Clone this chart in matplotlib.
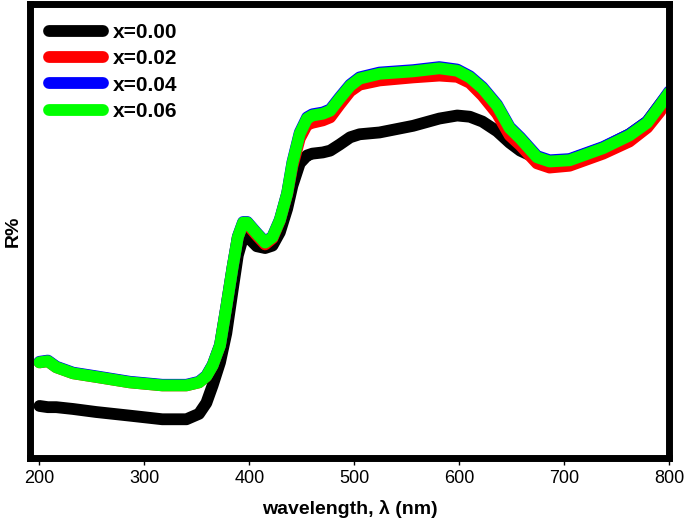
import matplotlib.pyplot as plt

plt.rcParams['font.family'] = ['Liberation Sans', 'DejaVu Sans']

# wavelength grid (nm)
wavelength = [200, 208, 216, 232, 254, 286, 317, 340, 352, 359, 365, 372, 378, 384,
              389, 394, 398, 407, 415, 422, 429, 436, 441, 448, 455, 460, 470, 477,
              486, 496, 505, 524, 556, 581, 598, 610, 622, 636, 648, 658, 674, 686,
              705, 737, 762, 779, 791, 800]

# reflectance (arbitrary R% scale, no y ticks in the original)
r_000 = [13.6, 13.4, 13.4, 13.1, 12.6, 12.0, 11.4, 11.4, 12.3, 14.1, 17.0, 20.8, 25.6, 32.7,
         38.5, 41.5, 41.6, 40.0, 39.7, 40.1, 42.3, 46.2, 50.0, 53.7, 55.0, 55.3, 55.5, 55.8,
         56.8, 58.0, 58.5, 58.8, 59.9, 61.1, 61.6, 61.4, 60.6, 59.0, 57.1, 55.8, 54.5, 54.0,
         54.3, 56.3, 58.5, 60.6, 63.4, 65.4]
r_002 = [20.8, 21.0, 20.0, 19.0, 18.4, 17.5, 17.0, 17.0, 17.5, 18.5, 20.3, 23.6, 29.9, 36.5,
         41.5, 43.7, 43.6, 41.8, 40.3, 41.3, 44.2, 48.6, 53.2, 57.8, 60.1, 60.4, 60.8, 61.3,
         63.4, 65.6, 66.7, 67.4, 67.9, 68.2, 68.0, 67.0, 64.9, 61.9, 58.3, 56.7, 53.7, 53.0,
         53.3, 55.3, 57.3, 59.6, 62.2, 64.6]
r_004 = [20.9, 21.1, 20.1, 19.1, 18.5, 17.6, 17.1, 17.1, 17.6, 18.6, 20.4, 23.7, 30.0, 36.6,
         41.6, 44.0, 44.0, 42.2, 40.7, 41.6, 44.4, 48.8, 53.9, 58.8, 61.3, 61.8, 62.1, 62.6,
         64.6, 66.7, 67.9, 68.7, 69.1, 69.6, 69.2, 68.1, 66.3, 63.4, 59.7, 58.0, 54.9, 54.2,
         54.4, 56.4, 58.5, 60.6, 63.4, 65.6]
r_006 = [20.8, 21.0, 20.0, 19.0, 18.4, 17.5, 17.0, 17.0, 17.5, 18.5, 20.3, 23.6, 29.9, 36.5,
         41.5, 43.9, 43.9, 42.1, 40.6, 41.5, 44.3, 48.7, 53.7, 58.6, 61.1, 61.6, 61.9, 62.4,
         64.4, 66.5, 67.7, 68.5, 68.9, 69.4, 69.0, 67.9, 66.1, 63.2, 59.5, 57.8, 54.7, 54.0,
         54.2, 56.2, 58.3, 60.4, 63.2, 65.4]

series = [("x=0.00", r_000, "black"),
          ("x=0.02", r_002, "red"),
          ("x=0.04", r_004, "blue"),
          ("x=0.06", r_006, "#00ff00")]

fig = plt.figure(figsize=(6.85, 5.23), dpi=100)
ax = fig.add_axes([0.0438, 0.1243, 0.9332, 0.8677])

for label, vals, color in series:
    ax.plot(wavelength, vals, color=color, lw=8.5, label=label,
            solid_capstyle='round', solid_joinstyle='round')

ax.set_xlim(191, 800)
ax.set_ylim(5, 80)
ax.set_xticks([200, 300, 400, 500, 600, 700, 800])
ax.set_yticks([])
ax.tick_params(axis='x', direction='out', length=5, width=1, labelsize=13, pad=4)

for sp in ax.spines.values():
    sp.set_linewidth(5)

ax.set_xlabel("wavelength, λ (nm)", fontsize=14, fontweight='bold', labelpad=9)
ax.set_ylabel("R%", fontsize=14, fontweight='bold', labelpad=6)

leg = ax.legend(loc='upper left', frameon=False, prop={'size': 15, 'weight': 'bold'},
                handlelength=2.6, handletextpad=0.5, labelspacing=0.35,
                borderaxespad=0.5)

fig.savefig("out.png", dpi=100)
